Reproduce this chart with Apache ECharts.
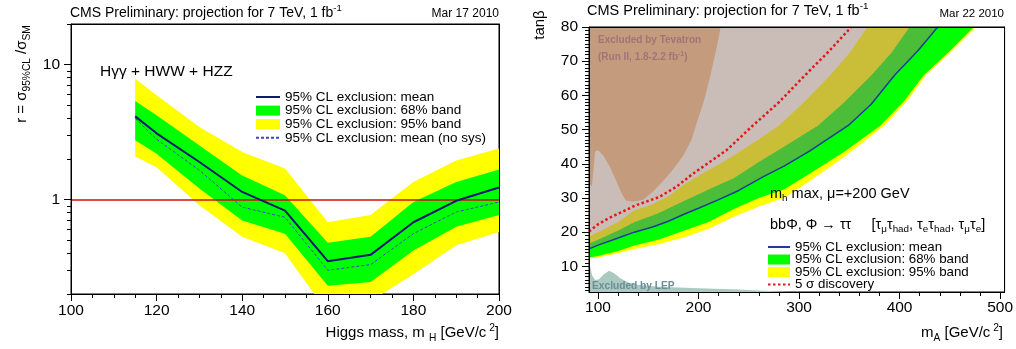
<!DOCTYPE html>
<html>
<head>
<meta charset="utf-8">
<script src="https://cdn.jsdelivr.net/npm/echarts@6/dist/echarts.min.js"></script>
<style>
  html, body { margin: 0; padding: 0; background: #fff; }
  #chart { width: 1016px; height: 349px; }
</style>
</head>
<body>
<div id="chart"></div>
<script>
// left panel: r = sigma95/sigmaSM vs Higgs mass
const massPoints = [115, 120, 130, 140, 150, 160, 170, 180, 190, 200];
const meanExp    = [4.14, 3.1, 1.9, 1.14, 0.83, 0.35, 0.39, 0.68, 0.98, 1.23];
const meanNoSys  = [4.0, 2.8, 1.65, 0.88, 0.74, 0.30, 0.33, 0.56, 0.81, 0.96];
const band68Lo   = [2.75, 2.19, 1.21, 0.70, 0.56, 0.23, 0.245, 0.42, 0.63, 0.77];
const band68Hi   = [5.37, 4.21, 2.52, 1.51, 1.08, 0.48, 0.53, 0.96, 1.35, 1.67];
const band95Lo   = [2.09, 1.74, 0.91, 0.53, 0.40, 0.145, 0.177, 0.28, 0.46, 0.575];
const band95Hi   = [7.87, 5.93, 3.45, 2.25, 1.70, 0.68, 0.77, 1.35, 1.95, 2.39];
const rSM = 1;
const rTicks = [1, 10];
const rMinorTicks = [0.2, 0.3, 0.4, 0.5, 0.6, 0.7, 0.8, 0.9, 2, 3, 4, 5, 6, 7, 8, 9, 20];

// right panel: tanBeta vs mA, curves as [mA, tanBeta]
const expMeanCurve = [[91, 15.1], [100, 16.2], [120, 18.3], [136, 20], [155, 21.6], [170, 23.2], [186, 25.3],
  [200, 27], [220, 29.5], [240, 32.2], [265, 36.3], [285, 39.3], [310, 43.6], [349, 51.2], [372, 57.5],
  [395, 65.9], [418, 73], [438, 80]];
const band68Upper = [[91, 16.7], [100, 17.8], [120, 20.5], [136, 22.9], [160, 25.5], [186, 29.2], [210, 32.5],
  [235, 35.8], [260, 40.5], [285, 45], [319, 51.2], [345, 58], [372, 65.9], [392, 72.5], [410, 80]];
const band68Lower = [[91, 12.6], [100, 13], [120, 14.5], [136, 16.1], [160, 17.8], [186, 20.5], [210, 23],
  [235, 26.8], [260, 30], [285, 32.5], [310, 37], [345, 43.5], [381, 51.2], [405, 58.5], [424, 65.9],
  [450, 73], [474, 80]];
const band95Upper = [[91, 18.7], [100, 20], [120, 23], [136, 26.3], [153, 28], [170, 30.5], [186, 34],
  [200, 36.5], [220, 39.8], [240, 43.4], [260, 47.2], [280, 51.2], [305, 58], [331, 65.9], [350, 72.3], [368, 80]];
const band95Lower = [[91, 12.4], [100, 12.6], [120, 13.8], [136, 15.1], [160, 16.5], [186, 18.5], [210, 21],
  [235, 24.5], [260, 27.5], [285, 30], [310, 34.8], [345, 42], [385, 51.2], [408, 58.5], [426, 65.9],
  [452, 73], [476, 80]];
const discovery5s = [[91, 20.2], [100, 22.3], [110, 24], [128, 26.5], [137, 27.8], [161, 30.3], [178, 33.3],
  [194, 37], [211, 40.5], [228, 44], [240, 47.3], [253, 50.9], [280, 58], [306, 65.9], [330, 73], [352, 80]];
const tevatronEdge = [[91, 34], [94, 33.5], [97, 43.5], [100, 44], [105, 42.5], [112, 39], [118, 35], [124, 31],
  [128, 29.2], [135, 29], [145, 29.5], [155, 32], [165, 35], [175, 38.5], [185, 42.5], [193, 47], [199, 52.7],
  [205, 58], [212, 66], [218, 74], [222, 80]];
const lepEdge = [[91, 14], [92, 10], [94, 7.5], [97, 6], [101, 6.2], [106, 7.8], [111, 8.7], [116, 8], [122, 6.5],
  [130, 5.3], [140, 4.6], [160, 4], [200, 3.6], [240, 3.2], [270, 2.8], [290, 2.5]];
const mATicks = [100, 200, 300, 400, 500];
const mAMinorTicks = [120, 140, 160, 180, 220, 240, 260, 280, 320, 340, 360, 380, 420, 440, 460, 480];
const tbTicks = [10, 20, 30, 40, 50, 60, 70, 80];

const MA_MIN = 91, MA_MAX = 504.5, TB_MIN = 2.5, TB_MAX = 80;
const tbMinorTicks = [];
for (let v = 3; v < TB_MAX; v++) if (v % 10) tbMinorTicks.push(v);

const FONT = "'Liberation Sans', Arial, Helvetica, sans-serif";
const black = { color: '#000', width: 1 };
const tickFont = { fontFamily: FONT, fontSize: 15.5, color: '#000' };

const legendText = {
  'L mean': '95% CL exclusion: mean',
  'L 68': '95% CL exclusion: 68% band',
  'L 95': '95% CL exclusion: 95% band',
  'L nosys': '95% CL exclusion: mean (no sys)',
  'R mean': '95% CL exclusion: mean',
  'R 68': '95% CL exclusion: 68% band',
  'R 95': '95% CL exclusion: 95% band',
  'R 5s': '5 σ discovery'
};
const noSymbol = { opacity: 0 };

function frameAxis(gridIndex, position, type, min, max) {
  return {
    gridIndex, type, position, min, max, z: 10,
    axisLine: { show: true, onZero: false, lineStyle: black },
    axisTick: { show: false }, axisLabel: { show: false }, splitLine: { show: false }
  };
}
function minorAxis(gridIndex, position, type, min, max, values) {
  return {
    gridIndex, type, position, min, max, z: 10,
    axisLine: { show: false, onZero: false },
    axisTick: { show: true, length: 4, customValues: values, lineStyle: black },
    axisLabel: { show: false }, splitLine: { show: false }
  };
}
// filled region drawn as one polygon through the axes
function regionSeries(name, outline, color, xi, yi, z) {
  return {
    name, type: 'custom', xAxisIndex: xi, yAxisIndex: yi, z, clip: true, silent: true,
    itemStyle: { color },
    data: outline,
    encode: { x: 0, y: 1 },
    renderItem: function (params, api) {
      if (params.dataIndex !== 0) return null;
      return {
        type: 'polygon',
        shape: { points: outline.map(p => api.coord(p)) },
        style: { fill: color }
      };
    }
  };
}
function rich(fs) {
  return {
    n: { fontSize: fs, fontFamily: FONT, lineHeight: fs + 5, fill: '#000' },
    sub: { fontSize: fs * 0.68, fontFamily: FONT, lineHeight: fs * 0.68, verticalAlign: 'bottom', fill: '#000' },
    sup: { fontSize: fs * 0.68, fontFamily: FONT, lineHeight: fs * 0.68, verticalAlign: 'top', fill: '#000' }
  };
}
function label(x, y, text, fs, align, extra) {
  return Object.assign({
    type: 'text', x, y, z: 100, silent: true,
    style: { text, rich: rich(fs), align: align || 'left', verticalAlign: 'middle' }
  }, extra || {});
}

const left68 = massPoints.map((m, i) => [m, band68Hi[i]])
  .concat(massPoints.map((m, i) => [m, band68Lo[i]]).reverse());
const left95 = massPoints.map((m, i) => [m, band95Hi[i]])
  .concat(massPoints.map((m, i) => [m, band95Lo[i]]).reverse());

const chart = echarts.init(document.getElementById('chart'));
chart.setOption({
  animation: false,
  backgroundColor: '#fff',
  grid: [
    { left: 71, top: 24, width: 428, height: 270, show: true, borderColor: '#000', borderWidth: 1, backgroundColor: '#fff' },
    { left: 589, top: 27, width: 419, height: 265, show: true, borderColor: '#000', borderWidth: 1, backgroundColor: '#fff' }
  ],
  xAxis: [
    {
      gridIndex: 0, type: 'value', position: 'bottom', min: 100, max: 200, interval: 20, z: 10,
      axisLine: { onZero: false, lineStyle: black },
      axisTick: { length: 7, lineStyle: black },
      minorTick: { show: true, splitNumber: 4, length: 4, lineStyle: black },
      axisLabel: Object.assign({ margin: 9 }, tickFont),
      splitLine: { show: false }, minorSplitLine: { show: false }
    },
    frameAxis(0, 'top', 'value', 100, 200),
    {
      gridIndex: 1, type: 'value', position: 'bottom', min: MA_MIN, max: MA_MAX, z: 10,
      axisLine: { onZero: false, lineStyle: black },
      axisTick: { length: 7, customValues: mATicks, lineStyle: black },
      axisLabel: Object.assign({ margin: 8, customValues: mATicks }, tickFont),
      splitLine: { show: false }
    },
    minorAxis(1, 'bottom', 'value', MA_MIN, MA_MAX, mAMinorTicks),
    frameAxis(1, 'top', 'value', MA_MIN, MA_MAX)
  ],
  yAxis: [
    {
      gridIndex: 0, type: 'log', logBase: 10, position: 'left', min: 0.2, max: 20, z: 10,
      axisLine: { onZero: false, lineStyle: black },
      axisTick: { length: 7, customValues: rTicks, lineStyle: black },
      axisLabel: Object.assign({ margin: 11, customValues: rTicks }, tickFont),
      splitLine: { show: false }
    },
    minorAxis(0, 'left', 'log', 0.2, 20, rMinorTicks),
    frameAxis(0, 'right', 'log', 0.2, 20),
    {
      gridIndex: 1, type: 'value', position: 'left', min: TB_MIN, max: TB_MAX, z: 10,
      axisLine: { onZero: false, lineStyle: black },
      axisTick: { length: 7, customValues: tbTicks, lineStyle: black },
      axisLabel: Object.assign({ margin: 11, customValues: tbTicks }, tickFont),
      splitLine: { show: false }
    },
    minorAxis(1, 'left', 'value', TB_MIN, TB_MAX, tbMinorTicks),
    frameAxis(1, 'right', 'value', TB_MIN, TB_MAX)
  ],
  legend: [
    {
      left: 255, top: 90, orient: 'vertical', padding: 0, itemWidth: 24, itemHeight: 10, itemGap: -0.4,
      selectedMode: false,
      textStyle: { fontFamily: FONT, fontSize: 13.5, color: '#000', lineHeight: 12 },
      formatter: n => legendText[n],
      data: [
        { name: 'L mean', itemStyle: noSymbol },
        { name: 'L 68', icon: 'rect' },
        { name: 'L 95', icon: 'rect' },
        { name: 'L nosys', itemStyle: noSymbol }
      ]
    },
    {
      left: 767, top: 240.5, orient: 'vertical', padding: 0, itemWidth: 22, itemHeight: 10, itemGap: -0.5,
      selectedMode: false,
      textStyle: { fontFamily: FONT, fontSize: 13.3, color: '#000', lineHeight: 12 },
      formatter: n => legendText[n],
      data: [
        { name: 'R mean', itemStyle: noSymbol },
        { name: 'R 68', icon: 'rect' },
        { name: 'R 95', icon: 'rect' },
        { name: 'R 5s', itemStyle: noSymbol }
      ]
    }
  ],
  series: [
    regionSeries('L 95', left95, '#ffff00', 0, 0, 1),
    regionSeries('L 68', left68, '#00ff00', 0, 0, 2),
    {
      name: 'L nosys', type: 'line', xAxisIndex: 0, yAxisIndex: 0, z: 4, symbol: 'none', silent: true,
      data: massPoints.map((m, i) => [m, meanNoSys[i]]),
      lineStyle: { color: '#4040d0', width: 1, type: [3, 2] },
      itemStyle: { color: '#4040d0' },
      markLine: {
        silent: true, symbol: 'none', label: { show: false },
        lineStyle: { color: '#cc1010', width: 1.5, type: 'solid' },
        data: [{ yAxis: rSM }]
      }
    },
    {
      name: 'L mean', type: 'line', xAxisIndex: 0, yAxisIndex: 0, z: 5, symbol: 'none', silent: true,
      data: massPoints.map((m, i) => [m, meanExp[i]]),
      lineStyle: { color: '#101a70', width: 2 },
      itemStyle: { color: '#101a70' }
    },

    regionSeries('R lep', lepEdge.concat([[MA_MIN, TB_MIN]]), '#a9c9c1', 2, 3, 1),
    regionSeries('R 95', band95Upper.concat(band95Lower.slice().reverse()), '#ffff00', 2, 3, 2),
    regionSeries('R 68', band68Upper.concat(band68Lower.slice().reverse()), '#00ff00', 2, 3, 3),
    regionSeries('R excl', expMeanCurve.concat([[MA_MIN, TB_MAX]]), 'rgba(150,124,112,0.5)', 2, 3, 4),
    regionSeries('R tev', tevatronEdge.concat([[MA_MIN, TB_MAX]]), '#c59b7e', 2, 3, 5),
    {
      name: 'R mean', type: 'line', xAxisIndex: 2, yAxisIndex: 3, z: 6, symbol: 'none', silent: true,
      data: expMeanCurve,
      lineStyle: { color: '#1f3c9a', width: 1.5 },
      itemStyle: { color: '#1f3c9a' }
    },
    {
      name: 'R 5s', type: 'line', xAxisIndex: 2, yAxisIndex: 3, z: 7, symbol: 'none', silent: true,
      data: discovery5s,
      lineStyle: { color: '#e01818', width: 2.5, type: [2.5, 2.5] },
      itemStyle: { color: '#e01818' }
    }
  ],
  graphic: [
    // left panel
    label(70, 13, '{n|CMS Preliminary: projection for 7 TeV, 1 fb}{sup|-1}', 14),
    label(499, 14, '{n|Mar 17 2010}', 12, 'right'),
    label(100, 72, '{n|Hγγ + HWW + HZZ}', 15.5),
    label(22, 74, '{n|r = σ}{sub|95%CL}{n| /σ}{sub|SM}', 15, 'center', { rotation: Math.PI / 2 }),
    label(499, 333, '{n|Higgs mass, m }{sub|H}{n| [GeV/c}{sup| 2}{n|]}', 15, 'right'),
    // right panel
    label(587, 11, '{n|CMS Preliminary: projection for 7 TeV, 1 fb}{sup|-1}', 14.5),
    label(1004, 14, '{n|Mar 22 2010}', 11.5, 'right'),
    label(540, 25, '{n|tanβ}', 15, 'center', { rotation: Math.PI / 2 }),
    label(1003, 333, '{n|m}{sub|A}{n| [GeV/c}{sup| 2}{n|]}', 15, 'right'),
    label(770, 194, '{n|m}{sub|h}{n| max, μ=+200 GeV}', 14.5),
    label(770, 225, '{n|bbΦ, Φ → ττ     [τ}{sub|μ}{n|τ}{sub|had}{n|, τ}{sub|e}{n|τ}{sub|had}{n|, τ}{sub|μ}{n|τ}{sub|e}{n|]}', 14.5),
    {
      type: 'text', x: 598, y: 40, z: 100, silent: true,
      style: { text: 'Excluded by Tevatron', fontFamily: FONT, fontSize: 10, fontWeight: 'bold', fill: '#a27476', verticalAlign: 'middle' }
    },
    {
      type: 'text', x: 598, y: 57, z: 100, silent: true,
      style: {
        text: '{t|(Run II, 1.8-2.2 fb}{s|-1}{t|)}', verticalAlign: 'middle',
        rich: {
          t: { fontFamily: FONT, fontSize: 10, fontWeight: 'bold', fill: '#a27476', lineHeight: 13 },
          s: { fontFamily: FONT, fontSize: 7, fontWeight: 'bold', fill: '#a27476', lineHeight: 7, verticalAlign: 'top' }
        }
      }
    },
    {
      type: 'text', x: 592, y: 286, z: 100, silent: true,
      style: { text: 'Excluded by LEP', fontFamily: FONT, fontSize: 10.2, fontWeight: 'bold', fill: '#6d8c94', verticalAlign: 'middle' }
    }
  ]
});
</script>
</body>
</html>
